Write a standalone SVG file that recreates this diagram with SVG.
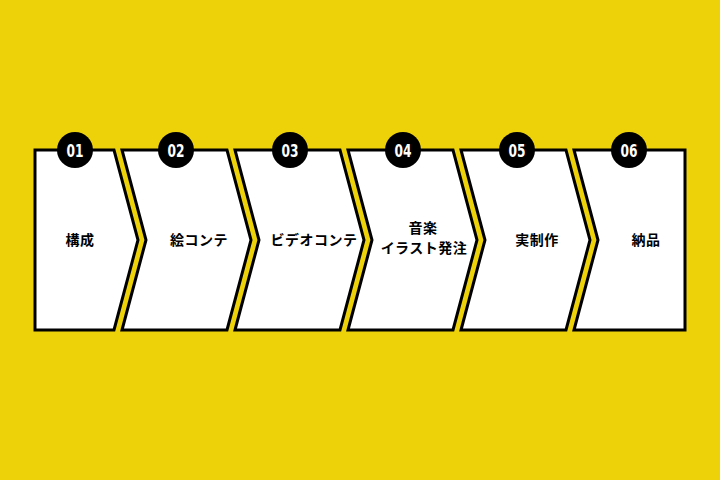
<svg xmlns="http://www.w3.org/2000/svg" width="720" height="480" viewBox="0 0 720 480">
<style>
.box{fill:#ffffff;stroke:#000000;stroke-width:3;stroke-linejoin:miter}
.badge{fill:#000000}
.num{fill:#ffffff;font-family:"DejaVu Sans Condensed","DejaVu Sans",sans-serif;font-weight:bold;font-size:18px;text-anchor:middle}
.lbl{fill:#000000;font-family:"Noto Sans CJK JP","Noto Sans",sans-serif;font-weight:bold;font-size:14px;text-anchor:middle;letter-spacing:0.5px}
</style>
<rect width="720" height="480" fill="#EDD20A"/>
<g id="connectors"></g>
<g id="step01">
<polygon class="box" points="35,150 114,150 138,240 114,330 35,330"/>
<circle class="badge" cx="75" cy="150" r="18"/>
<text class="num" x="75" y="156.5" textLength="17" lengthAdjust="spacingAndGlyphs">01</text>
<text class="lbl" x="80" y="245">構成</text>
</g>
<g id="step02">
<polygon class="box" points="122,150 227,150 251,240 227,330 122,330 146,240"/>
<circle class="badge" cx="176" cy="150" r="18"/>
<text class="num" x="176" y="156.5" textLength="17" lengthAdjust="spacingAndGlyphs">02</text>
<text class="lbl" x="199" y="245">絵コンテ</text>
</g>
<g id="step03">
<polygon class="box" points="235,150 340,150 364,240 340,330 235,330 259,240"/>
<circle class="badge" cx="290" cy="150" r="18"/>
<text class="num" x="290" y="156.5" textLength="17" lengthAdjust="spacingAndGlyphs">03</text>
<text class="lbl" x="314" y="245">ビデオコンテ</text>
</g>
<g id="step04">
<polygon class="box" points="348,150 453,150 477,240 453,330 348,330 372,240"/>
<circle class="badge" cx="403" cy="150" r="18"/>
<text class="num" x="403" y="156.5" textLength="17" lengthAdjust="spacingAndGlyphs">04</text>
<text class="lbl" x="423" y="233">音楽</text>
<text class="lbl" x="424" y="253">イラスト発注</text>
</g>
<g id="step05">
<polygon class="box" points="461,150 566,150 590,240 566,330 461,330 485,240"/>
<circle class="badge" cx="517" cy="150" r="18"/>
<text class="num" x="517" y="156.5" textLength="17" lengthAdjust="spacingAndGlyphs">05</text>
<text class="lbl" x="537" y="245">実制作</text>
</g>
<g id="step06">
<polygon class="box" points="574,150 685,150 685,330 574,330 598,240"/>
<circle class="badge" cx="629" cy="150" r="18"/>
<text class="num" x="629" y="156.5" textLength="17" lengthAdjust="spacingAndGlyphs">06</text>
<text class="lbl" x="646" y="245">納品</text>
</g>
</svg>
